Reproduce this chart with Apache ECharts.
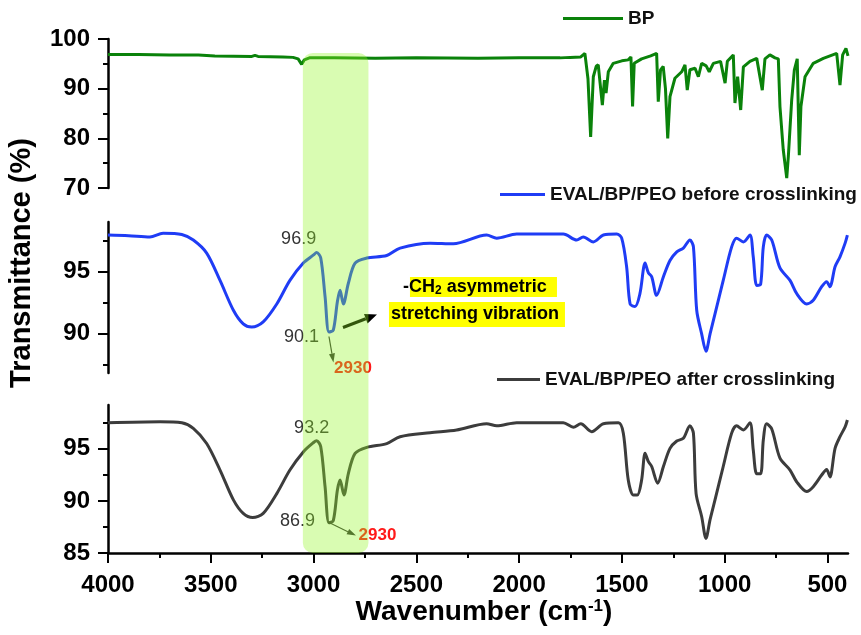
<!DOCTYPE html>
<html><head><meta charset="utf-8">
<script src="https://cdn.jsdelivr.net/npm/echarts@6/dist/echarts.min.js"></script>
<style>html,body{margin:0;padding:0;background:#fff}#c{width:861px;height:635px}</style>
</head><body><div id="c"></div>
<script>
const FONT = '"Liberation Sans", Arial, sans-serif';

// ---- tick values ----
const xTicks = [4000, 3500, 3000, 2500, 2000, 1500, 1000, 500];
const xMinorTicks = [3750, 3250, 2750, 2250, 1750, 1250, 750];
const bpTicks = [70, 80, 90, 100];
const bpMinor = [75, 85, 95];
const beforeTicks = [90, 95];
const beforeMinor = [87.5, 92.5, 97.5];
const afterTicks = [85, 90, 95];
const afterMinor = [87.5, 92.5, 97.5];

// ---- series names ----
const seriesNames = ['BP', 'EVAL/BP/PEO before crosslinking', 'EVAL/BP/PEO after crosslinking'];

// ---- BP spectrum ----
const bpX = [4000,3850,3700,3560,3480,3300,3285,3270,3150,3100,3075,3058,3045,3020,2900,2700,2500,2200,2000,1800,1752,1700,1680,1665,1652,1639,1625,1615,1606,1595,1585,1577,1566,1542,1500,1469,1456,1448,1440,1404,1360,1331,1323,1312,1299,1288,1277,1266,1242,1209,1193,1182,1169,1144,1128,1112,1090,1075,1055,1020,998,987,958,950,937,922,909,877,844,817,804,780,755,739,731,715,698,690,674,661,647,637,629,609,569,520,455,439,426,410,400];
const bpY = [96.9,96.9,96.8,96.8,96.6,96.5,96.7,96.5,96.4,96.3,96.0,94.9,95.8,96.2,96.2,96.1,96.2,96.1,96.2,96.2,96.3,96.4,97.1,92.0,80.3,92.4,94.5,94.8,91.1,86.7,91.7,89.1,93.4,95.1,95.6,95.8,96.4,86.4,95.1,96.0,96.6,97.1,87.4,93.8,94.5,90.0,80.0,88.4,92.1,93.4,94.8,89.7,93.8,94.1,92.4,95.1,94.6,93.4,95.1,95.5,91.1,95.5,96.8,87.1,92.4,85.7,94.4,95.5,96.1,89.7,96.0,96.8,96.2,96.0,86.4,77.7,72.0,76.5,87.7,93.8,96.0,76.6,86.4,92.4,95.1,96.1,97.1,90.7,96.8,98.1,96.6];

// ---- EVAL/BP/PEO before crosslinking ----
const beforeX = [4000,3900,3796,3732,3641,3585,3520,3455,3390,3342,3301,3245,3179,3115,3050,3000,2985,2965,2944,2925,2904,2884,2871,2855,2831,2798,2741,2644,2579,2433,2320,2158,2109,2012,1785,1720,1688,1639,1590,1525,1501,1477,1460,1436,1412,1387,1371,1355,1331,1298,1266,1233,1201,1169,1152,1136,1112,1091,1071,1047,1007,966,942,909,877,861,844,825,812,796,771,731,682,650,601,569,528,504,488,463,439,414,403];
const beforeY = [97.95,97.9,97.8,98.1,98.0,97.55,96.5,94.3,91.9,90.8,90.55,90.96,92.4,94.3,95.7,96.35,96.55,96.1,93.0,90.15,90.3,92.6,93.5,92.4,94.05,95.7,96.1,96.3,96.9,97.3,97.25,97.95,97.7,98.03,98.03,97.55,97.8,97.4,97.95,98.03,97.7,95.4,92.4,92.2,93.25,95.7,94.9,94.6,93.1,94.6,95.9,96.6,96.9,97.55,97.0,91.9,90.0,88.6,90.0,91.6,94.3,97.0,97.7,97.4,97.95,96.2,93.9,94.0,97.0,97.95,97.55,95.3,94.3,93.25,92.4,92.7,93.8,94.2,93.8,95.4,96.2,97.3,97.95];

// ---- EVAL/BP/PEO after crosslinking ----
const afterX = [4000,3747,3641,3585,3520,3455,3390,3342,3296,3245,3179,3115,3050,3000,2985,2965,2944,2925,2904,2884,2871,2852,2831,2798,2741,2644,2579,2433,2304,2158,2109,2012,1785,1736,1700,1647,1590,1517,1493,1469,1444,1425,1404,1387,1371,1355,1326,1298,1266,1233,1201,1169,1152,1139,1112,1091,1071,1047,1007,966,942,909,877,861,844,825,812,796,771,731,682,650,601,569,528,504,488,463,439,414,403];
const afterY = [97.5,97.6,97.5,96.96,95.5,92.96,90.1,88.8,88.4,88.8,90.7,92.96,94.7,95.6,95.77,95.2,91.36,87.9,88.1,91.04,92.0,90.56,92.6,94.56,95.14,95.5,96.16,96.54,96.8,97.4,97.2,97.5,97.5,97.06,97.4,96.64,97.4,97.5,96.5,92.0,90.56,90.56,92.0,94.56,93.76,93.3,91.7,93.3,95.04,95.75,96.0,97.2,96.5,90.7,88.5,86.4,88.2,90.1,93.3,96.5,97.2,96.8,97.5,94.9,92.6,92.6,95.84,97.4,96.9,94.1,92.96,91.84,90.9,91.36,92.48,93.0,92.3,95.04,96.16,97.1,97.76];

// ---- annotations ----
const highlightRange = [3052, 2733];
const beforePeaks = [[2985, 96.55, '96.9'], [2925, 90.15, '90.1']];
const afterPeaks = [[2985, 95.77, '93.2'], [2925, 87.9, '86.9']];
const peakWavenumberLabel = '2930';

const zip = (xs, ys) => xs.map((x, i) => [x, ys[i]]);
const colors = ['#0a820a', '#1f3cf5', '#3c3c3c'];

const grids = [
  { left: 108, right: 13, top: 39, height: 149 },
  { left: 108, right: 13, top: 222, height: 151 },
  { left: 108, right: 13, top: 405, height: 148 }
];
const yRanges = [[70, 100], [86.85, 99], [85, 99.2]];
const yMajors = [bpTicks, beforeTicks, afterTicks];
const yMinors = [bpMinor, beforeMinor, afterMinor];

const labelStyle = { fontSize: 24, fontWeight: 'bold', color: '#000', fontFamily: FONT, formatter: v => String(v) };
const xAxes = [], yAxes = [];
for (let g = 0; g < 3; g++) {
  const last = g === 2;
  xAxes.push({
    type: 'value', gridIndex: g, min: 400, max: 4000, inverse: true, position: 'bottom',
    show: last,
    axisLine: { show: last, onZero: false, lineStyle: { color: '#000', width: 2.5 } },
    axisTick: { show: last, length: 10, lineStyle: { color: '#000', width: 2 }, customValues: xTicks },
    axisLabel: Object.assign({ show: last, margin: 20, customValues: xTicks }, labelStyle),
    splitLine: { show: false }
  });
  yAxes.push({
    type: 'value', gridIndex: g, min: yRanges[g][0], max: yRanges[g][1], position: 'left',
    axisLine: { show: true, onZero: false, lineStyle: { color: '#000', width: 2.5 } },
    axisTick: { show: true, length: 10, lineStyle: { color: '#000', width: 2 }, customValues: yMajors[g] },
    axisLabel: Object.assign({ margin: 18, customValues: yMajors[g] }, labelStyle),
    splitLine: { show: false }
  });
}
// minor tick axes
xAxes.push({
  type: 'value', gridIndex: 2, min: 400, max: 4000, inverse: true, position: 'bottom',
  axisLine: { show: false, onZero: false },
  axisTick: { show: true, length: 5, lineStyle: { color: '#000', width: 2 }, customValues: xMinorTicks },
  axisLabel: { show: false }, splitLine: { show: false }
});
for (let g = 0; g < 3; g++) {
  yAxes.push({
    type: 'value', gridIndex: g, min: yRanges[g][0], max: yRanges[g][1], position: 'left',
    axisLine: { show: false, onZero: false },
    axisTick: { show: true, length: 5, lineStyle: { color: '#000', width: 2 }, customValues: yMinors[g] },
    axisLabel: { show: false }, splitLine: { show: false }
  });
}

const datasets = [zip(bpX, bpY), zip(beforeX, beforeY), zip(afterX, afterY)];
const series = datasets.map((d, g) => ({
  name: seriesNames[g], type: 'line', xAxisIndex: g, yAxisIndex: g, data: d,
  showSymbol: false, symbol: 'none', smooth: g === 0 ? false : 0.3,
  lineStyle: { color: colors[g], width: 3 }, itemStyle: { color: colors[g] }, z: 5
}));

const legendText = { fontSize: 19, fontWeight: 'bold', color: '#111', fontFamily: FONT };
const legends = [
  { data: [seriesNames[0]], left: 563, top: 9, itemWidth: 60 },
  { data: [seriesNames[1]], left: 500, top: 185, itemWidth: 45 },
  { data: [seriesNames[2]], left: 497, top: 370, itemWidth: 43 }
].map(l => Object.assign({ icon: 'rect', itemHeight: 3, padding: 0, textStyle: legendText, selectedMode: false }, l));

const chart = echarts.init(document.getElementById('c'));
chart.setOption({
  animation: false,
  backgroundColor: '#fff',
  grid: grids, xAxis: xAxes, yAxis: yAxes, series, legend: legends
});

const px = (g, x, y) => chart.convertToPixel({ xAxisIndex: g, yAxisIndex: g }, [x, y]);

function arrow(x1, y1, x2, y2, len, w, color, lw) {
  const a = Math.atan2(y2 - y1, x2 - x1);
  const bx = x2 - len * Math.cos(a), by = y2 - len * Math.sin(a);
  const nx = -Math.sin(a) * w / 2, ny = Math.cos(a) * w / 2;
  return [
    { type: 'line', shape: { x1, y1, x2: bx, y2: by }, style: { stroke: color, lineWidth: lw }, z: 50 },
    { type: 'polygon', shape: { points: [[x2, y2], [bx + nx, by + ny], [bx - nx, by - ny]] }, style: { fill: color }, z: 50 }
  ];
}
function txt(x, y, text, font, fill, align) {
  return { type: 'text', x, y, z: 50, style: { text, font, fill, align: align || 'center', verticalAlign: 'middle' } };
}

const g = [];
// axis titles
g.push({ type: 'text', x: 22, y: 263, rotation: Math.PI / 2, z: 50,
  style: { text: 'Transmittance (%)', font: 'bold 29px ' + FONT, fill: '#000', align: 'center', verticalAlign: 'middle' } });
g.push({ type: 'text', x: 484, y: 612, z: 50,
  style: { text: '{a|Wavenumber (cm}{s|-1}{a|)}', align: 'center', verticalAlign: 'middle',
    rich: { a: { fontSize: 28, fontWeight: 'bold', fontFamily: FONT, fill: '#000', color: '#000' },
            s: { fontSize: 17, fontWeight: 'bold', fontFamily: FONT, fill: '#000', color: '#000', verticalAlign: 'top' } } } });

// panel 2 annotations
const A1 = px(1, beforePeaks[0][0], beforePeaks[0][1]);
const A2 = px(1, beforePeaks[1][0], beforePeaks[1][1]);
g.push(txt(A1[0] - 18, A1[1] - 13, beforePeaks[0][2], '18px ' + FONT, '#333'));
g.push(txt(A2[0] - 27.5, A2[1] + 5, beforePeaks[1][2], '18px ' + FONT, '#333'));
g.push(...arrow(A2[0], A2[1] + 4.5, A2[0] + 4.5, A2[1] + 30.5, 9, 6, '#333', 1.2));
g.push(txt(A2[0] + 24, A2[1] + 36, peakWavenumberLabel, 'bold 17px ' + FONT, '#ff1a1a'));
g.push(...arrow(A2[0] + 14, A2[1] - 4.5, A2[0] + 48, A2[1] - 17.5, 12, 10, '#000', 3));
g.push({ type: 'rect', z: 40, shape: { x: A2[0] + 81, y: A2[1] - 55, width: 147, height: 20 }, style: { fill: '#ffff00' } });
g.push({ type: 'rect', z: 40, shape: { x: A2[0] + 60, y: A2[1] - 30, width: 176, height: 25 }, style: { fill: '#ffff00' } });
g.push({ type: 'text', x: A2[0] + 74, y: A2[1] - 44.7, z: 50,
  style: { text: '{a|-CH}{s|2}{a| asymmetric}', align: 'left', verticalAlign: 'middle',
    rich: { a: { fontSize: 18, fontWeight: 'bold', fontFamily: FONT, color: '#000', fill: '#000' },
            s: { fontSize: 12, fontWeight: 'bold', fontFamily: FONT, color: '#000', fill: '#000', verticalAlign: 'bottom' } } } });
g.push(txt(A2[0] + 62, A2[1] - 17.7, 'stretching vibration', 'bold 18px ' + FONT, '#000', 'left'));

// panel 3 annotations
const B1 = px(2, afterPeaks[0][0], afterPeaks[0][1]);
const B2 = px(2, afterPeaks[1][0], afterPeaks[1][1]);
g.push(txt(B1[0] - 5, B1[1] - 12.4, afterPeaks[0][2], '18px ' + FONT, '#333'));
g.push(txt(B2[0] - 31.5, B2[1] - 2, afterPeaks[1][2], '18px ' + FONT, '#333'));
g.push(...arrow(B2[0] - 1, B2[1] - 0.7, B2[0] + 27, B2[1] + 12.8, 9, 6, '#333', 1.2));
g.push(txt(B2[0] + 48.5, B2[1] + 12.3, peakWavenumberLabel, 'bold 17px ' + FONT, '#ff1a1a'));

// highlight band
const hx1 = px(2, highlightRange[0], 90)[0];
const hx2 = px(2, highlightRange[1], 90)[0];
const hTop = px(0, 3000, 97.2)[1];
const hBot = px(2, 3000, 85)[1];
g.push({ type: 'rect', z: 100, shape: { x: hx1, y: hTop, width: hx2 - hx1, height: hBot - hTop, r: 10 },
  style: { fill: 'rgba(146,246,35,0.35)' } });

chart.setOption({ graphic: g });
</script>
</body></html>
